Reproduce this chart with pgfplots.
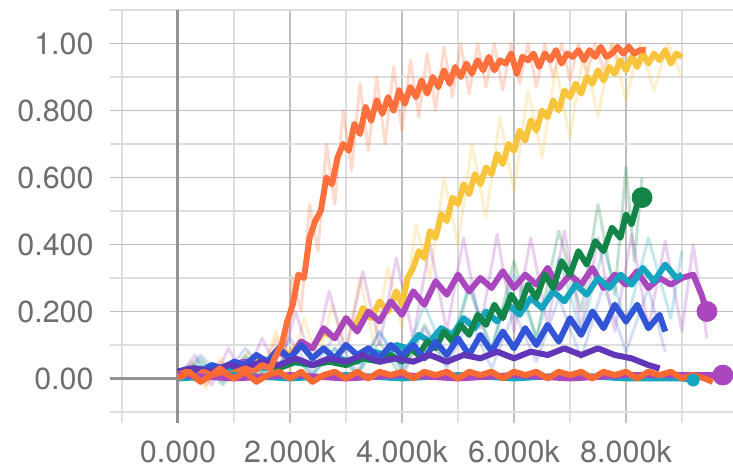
\documentclass[border=0pt]{standalone}
\usepackage{pgfplots}
\pgfplotsset{compat=1.18}
\usepackage{fontspec}
\setmainfont{TeX Gyre Heros}
\definecolor{cOr}{RGB}{255,112,60}
\definecolor{cYe}{RGB}{248,196,60}
\definecolor{cGr}{RGB}{20,133,72}
\definecolor{cCy}{RGB}{22,165,192}
\definecolor{cPu}{RGB}{170,70,190}
\definecolor{cBl}{RGB}{50,85,215}
\definecolor{cIn}{RGB}{98,54,184}
\definecolor{cOf}{RGB}{250,105,50}
\definecolor{txt}{RGB}{110,110,110}
\definecolor{gmaj}{RGB}{190,190,190}
\definecolor{gmin}{RGB}{222,222,222}
\begin{document}
\begin{tikzpicture}
\begin{axis}[
  scale only axis,
  width=311.5bp, height=206.5bp,
  xmin=-1214, xmax=9911, ymin=-0.133, ymax=1.1,
  axis line style={draw=none},
  tick style={draw=none},
  major tick length=0pt,
  xtick={0,2000,4000,6000,8000},
  xticklabels={0.000,2.000k,4.000k,6.000k,8.000k},
  minor xtick={-1000,1000,3000,5000,7000,9000},
  ytick={0,0.2,0.4,0.6,0.8,1.0},
  yticklabels={0.00,0.200,0.400,0.600,0.800,1.00},
  minor ytick={-0.1,0.1,0.3,0.5,0.7,0.9,1.1},
  grid=both,
  major grid style={draw=gmaj, line width=0.7bp},
  minor grid style={draw=gmin, line width=1bp},
  ticklabel style={font=\fontsize{15.3}{18}\selectfont, text=txt},
  yticklabel style={inner sep=0pt, anchor=east, xshift=-8bp},
  xticklabel style={inner sep=0pt, anchor=north, yshift=-8.5bp},
  every axis plot/.append style={line join=round},
]
\draw[draw=gray!85, line width=1.5bp] (axis cs:0,-0.133) -- (axis cs:0,1.1);
\draw[draw=gray!85, line width=1.2bp] (axis cs:-1214,0) -- (axis cs:0,0);

% faint raw series
\addplot[cOr, opacity=0.25, line width=1.5bp] coordinates {
(0,0.0)(250,0.04)(500,-0.02)(750,0.05)(1000,0.0)(1250,0.06)(1500,0.01)(1750,0.12)(1900,0.05)(2050,0.30)(2200,0.20)(2350,0.52)(2500,0.38)(2650,0.70)(2800,0.52)(2950,0.80)(3100,0.62)(3250,0.88)(3400,0.68)(3550,0.90)(3700,0.70)(3850,0.93)(4000,0.74)(4150,0.95)(4300,0.78)(4450,0.97)(4600,0.80)(4750,0.99)(4900,0.84)(5050,1.0)(5200,0.85)(5350,1.0)(5500,0.87)(5650,1.0)(5800,0.86)(5950,1.0)(6100,0.88)(6250,1.0)(6400,0.87)(6550,1.0)(6700,0.9)(6850,1.0)(7000,0.89)(7150,1.0)(7300,0.91)(7450,1.0)(7600,0.92)(7750,1.0)(7900,0.93)(8050,1.0)(8200,0.94)(8350,0.99)};
\addplot[cYe, opacity=0.25, line width=1.5bp] coordinates {
(0,0.0)(250,0.05)(500,-0.03)(750,0.06)(1000,0.0)(1250,0.08)(1500,0.02)(1750,0.14)(2000,0.02)(2250,0.18)(2500,0.05)(2750,0.22)(3000,0.08)(3250,0.30)(3500,0.10)(3750,0.33)(4000,0.15)(4250,0.46)(4500,0.30)(4750,0.60)(5000,0.40)(5250,0.70)(5500,0.48)(5750,0.78)(6000,0.56)(6250,0.86)(6500,0.66)(6750,0.93)(7000,0.72)(7250,0.98)(7500,0.78)(7750,1.0)(8000,0.83)(8250,1.0)(8500,0.86)(8750,1.0)(9000,0.9)};
\addplot[cGr, opacity=0.25, line width=1.5bp] coordinates {
(0,0.0)(400,0.06)(800,-0.02)(1200,0.07)(1600,0.0)(2000,0.08)(2400,0.01)(2800,0.09)(3200,0.01)(3600,0.11)(4000,0.0)(4400,0.16)(4800,0.04)(5200,0.27)(5600,0.08)(6000,0.35)(6400,0.12)(6800,0.44)(7200,0.20)(7500,0.52)(7800,0.25)(8000,0.63)(8150,0.35)(8286,0.60)};
\addplot[cPu, opacity=0.25, line width=1.5bp] coordinates {
(0,0.0)(300,0.07)(600,-0.02)(900,0.09)(1200,0.0)(1500,0.12)(1800,0.02)(2100,0.20)(2400,0.04)(2700,0.26)(3000,0.08)(3300,0.32)(3600,0.10)(3900,0.36)(4200,0.12)(4500,0.40)(4800,0.14)(5100,0.42)(5400,0.15)(5700,0.43)(6000,0.14)(6300,0.42)(6600,0.16)(6900,0.44)(7200,0.15)(7500,0.42)(7800,0.14)(8100,0.43)(8400,0.15)(8700,0.41)(9000,0.14)(9200,0.40)(9446,0.12)};
\addplot[cCy, opacity=0.25, line width=1.5bp] coordinates {
(0,0.0)(400,0.05)(800,-0.01)(1200,0.06)(1600,0.0)(2000,0.08)(2400,0.01)(2800,0.09)(3200,0.01)(3600,0.14)(4000,0.03)(4400,0.22)(4800,0.06)(5200,0.28)(5600,0.09)(6000,0.31)(6400,0.12)(6800,0.36)(7200,0.14)(7600,0.39)(8000,0.16)(8400,0.42)(8800,0.18)(9000,0.38)};
\addplot[cBl, opacity=0.2, line width=1.5bp] coordinates {
(0,0.0)(400,0.07)(800,0.0)(1200,0.09)(1600,0.01)(2000,0.12)(2400,0.02)(2800,0.13)(3200,0.02)(3600,0.14)(4000,0.02)(4400,0.15)(4800,0.03)(5200,0.18)(5600,0.03)(6000,0.20)(6400,0.05)(6800,0.24)(7200,0.06)(7600,0.28)(8000,0.08)(8400,0.27)(8700,0.08)};

% smoothed series
\addplot[cYe, line width=3bp] coordinates {
(0,0.01)(200,0.02)(400,0.01)(600,0.03)(800,0.02)(1000,0.04)(1200,0.03)(1400,0.06)(1600,0.05)(1800,0.09)(2000,0.07)(2200,0.11)(2400,0.09)(2600,0.14)(2800,0.12)(3000,0.18)(3150,0.15)(3300,0.21)(3450,0.18)(3600,0.23)(3750,0.20)(3900,0.26)(4000,0.22)(4100,0.30)(4200,0.33)(4300,0.38)(4400,0.36)(4500,0.44)(4600,0.42)(4700,0.49)(4800,0.47)(4900,0.54)(5000,0.52)(5100,0.58)(5200,0.55)(5300,0.61)(5400,0.58)(5500,0.63)(5600,0.61)(5700,0.67)(5800,0.64)(5900,0.70)(6000,0.68)(6100,0.74)(6200,0.71)(6300,0.77)(6400,0.74)(6500,0.80)(6600,0.78)(6700,0.83)(6800,0.80)(6900,0.86)(7000,0.84)(7100,0.88)(7200,0.85)(7300,0.90)(7400,0.88)(7500,0.92)(7600,0.89)(7700,0.93)(7800,0.91)(7900,0.95)(8000,0.92)(8100,0.96)(8200,0.93)(8300,0.97)(8400,0.94)(8500,0.97)(8600,0.95)(8700,0.98)(8800,0.94)(8900,0.97)(9000,0.96)};
\addplot[cPu, line width=3bp] coordinates {
(0,0.02)(300,0.03)(600,0.02)(900,0.04)(1200,0.05)(1500,0.04)(1800,0.08)(2000,0.06)(2200,0.11)(2400,0.09)(2600,0.15)(2800,0.12)(3000,0.18)(3200,0.14)(3400,0.20)(3600,0.17)(3800,0.23)(4000,0.19)(4200,0.26)(4400,0.22)(4600,0.29)(4800,0.25)(5000,0.31)(5200,0.26)(5400,0.30)(5600,0.27)(5800,0.32)(6000,0.27)(6200,0.31)(6400,0.28)(6600,0.33)(6800,0.27)(7000,0.31)(7200,0.28)(7400,0.33)(7600,0.27)(7800,0.31)(8000,0.28)(8200,0.32)(8400,0.27)(8600,0.30)(8800,0.28)(9000,0.30)(9200,0.31)(9350,0.25)(9446,0.20)};
\addplot[cCy, line width=3bp] coordinates {
(0,0.02)(400,0.03)(800,0.02)(1200,0.04)(1600,0.03)(2000,0.05)(2400,0.04)(2800,0.06)(3200,0.05)(3500,0.08)(3700,0.07)(3900,0.10)(4100,0.09)(4300,0.13)(4500,0.11)(4700,0.15)(4900,0.13)(5100,0.18)(5300,0.15)(5500,0.20)(5700,0.17)(5900,0.22)(6100,0.19)(6300,0.24)(6500,0.21)(6700,0.26)(6900,0.23)(7100,0.28)(7300,0.25)(7500,0.30)(7700,0.27)(7900,0.31)(8100,0.28)(8300,0.33)(8500,0.29)(8700,0.34)(8900,0.30)(9000,0.31)};
\addplot[cGr, line width=3bp] coordinates {
(0,0.02)(300,0.03)(600,0.02)(900,0.04)(1200,0.03)(1500,0.04)(1800,0.03)(2100,0.05)(2400,0.04)(2700,0.05)(3000,0.04)(3300,0.06)(3600,0.05)(3800,0.07)(4000,0.05)(4150,0.09)(4300,0.07)(4450,0.11)(4600,0.09)(4750,0.14)(4900,0.11)(5050,0.16)(5200,0.13)(5350,0.19)(5500,0.16)(5650,0.22)(5800,0.18)(5950,0.25)(6100,0.21)(6250,0.28)(6400,0.24)(6550,0.31)(6700,0.27)(6850,0.35)(7000,0.31)(7150,0.38)(7300,0.34)(7450,0.41)(7600,0.38)(7750,0.45)(7900,0.42)(8000,0.49)(8100,0.46)(8200,0.52)(8286,0.54)};
\addplot[cBl, line width=3bp] coordinates {
(0,0.02)(200,0.03)(400,0.02)(600,0.04)(800,0.03)(1000,0.05)(1200,0.04)(1400,0.07)(1600,0.05)(1800,0.09)(2000,0.06)(2200,0.10)(2400,0.06)(2600,0.09)(2800,0.06)(3000,0.10)(3200,0.07)(3400,0.09)(3600,0.06)(3800,0.10)(4000,0.07)(4200,0.10)(4400,0.06)(4600,0.11)(4800,0.07)(5000,0.12)(5200,0.07)(5400,0.13)(5600,0.08)(5800,0.14)(6000,0.09)(6200,0.15)(6400,0.10)(6600,0.16)(6800,0.11)(7000,0.18)(7200,0.13)(7400,0.20)(7600,0.15)(7800,0.22)(8000,0.17)(8200,0.22)(8400,0.15)(8600,0.19)(8700,0.14)};
\addplot[cIn, line width=3bp] coordinates {
(0,0.02)(300,0.03)(600,0.02)(900,0.04)(1200,0.03)(1500,0.05)(1800,0.04)(2100,0.06)(2400,0.04)(2700,0.06)(3000,0.05)(3300,0.07)(3600,0.05)(3900,0.06)(4200,0.05)(4500,0.07)(4800,0.05)(5100,0.07)(5400,0.06)(5700,0.08)(6000,0.06)(6300,0.08)(6600,0.07)(6900,0.09)(7200,0.07)(7500,0.09)(7800,0.07)(8100,0.06)(8400,0.04)(8600,0.03)};
\addplot[cOr, line width=3bp] coordinates {
(0,0.01)(150,0.02)(300,0.00)(450,0.02)(600,0.01)(750,0.03)(900,0.01)(1050,0.02)(1200,0.03)(1350,0.02)(1500,0.04)(1650,0.03)(1750,0.07)(1850,0.10)(1950,0.17)(2050,0.22)(2150,0.31)(2250,0.30)(2350,0.42)(2450,0.47)(2550,0.50)(2650,0.60)(2750,0.58)(2850,0.66)(2950,0.70)(3050,0.68)(3150,0.76)(3250,0.73)(3350,0.81)(3450,0.77)(3550,0.83)(3650,0.79)(3750,0.84)(3850,0.80)(3950,0.86)(4050,0.82)(4150,0.87)(4250,0.84)(4350,0.89)(4450,0.85)(4550,0.90)(4650,0.87)(4750,0.92)(4850,0.88)(4950,0.93)(5050,0.90)(5150,0.94)(5250,0.91)(5350,0.95)(5450,0.92)(5550,0.96)(5650,0.92)(5750,0.95)(5850,0.94)(5950,0.97)(6050,0.91)(6150,0.96)(6250,0.95)(6350,0.97)(6450,0.93)(6550,0.97)(6650,0.95)(6750,0.98)(6850,0.94)(6950,0.97)(7050,0.96)(7150,0.98)(7250,0.95)(7350,0.98)(7450,0.96)(7550,0.99)(7650,0.96)(7750,0.97)(7850,0.99)(7950,0.97)(8050,0.99)(8150,0.97)(8250,0.98)(8350,0.98)};
% near-zero series
\addplot[cCy, line width=3bp] coordinates {
(0,0.0)(1000,0.01)(2000,0.0)(3000,0.01)(4000,0.0)(5000,0.01)(6000,0.0)(7000,0.01)(8000,0.0)(9000,0.0)(9200,-0.005)};
\addplot[cPu, line width=3bp] coordinates {
(0,0.01)(1000,0.0)(2000,0.01)(3000,0.0)(4000,0.01)(5000,0.0)(6000,0.01)(7000,0.0)(8000,0.01)(9000,0.01)(9730,0.01)};
\addplot[cOf, line width=3bp] coordinates {
(0,0.00)(200,0.02)(400,-0.01)(600,0.01)(800,0.02)(1000,0.00)(1200,0.02)(1400,-0.01)(1600,0.01)(1800,0.02)(2000,0.00)(2200,0.02)(2400,-0.01)(2600,0.01)(2800,0.02)(3000,0.00)(3200,0.02)(3400,0.00)(3600,0.02)(3800,0.01)(4000,0.02)(4200,0.00)(4400,0.02)(4600,0.01)(4800,0.02)(5000,0.00)(5200,0.02)(5400,0.01)(5600,0.02)(5800,0.00)(6000,0.02)(6200,0.01)(6400,0.02)(6600,0.00)(6800,0.02)(7000,0.01)(7200,0.02)(7400,0.00)(7600,0.02)(7800,0.01)(8000,0.02)(8200,0.00)(8400,0.02)(8600,0.01)(8800,0.02)(9000,0.00)(9200,0.01)(9400,0.00)(9550,-0.01)};
% end markers
\addplot[only marks, mark=*, mark size=5bp, color=cGr] coordinates {(8286,0.54)};
\addplot[only marks, mark=*, mark size=5bp, color=cPu] coordinates {(9446,0.20)};
\addplot[only marks, mark=*, mark size=5bp, color=cPu] coordinates {(9730,0.01)};
\addplot[only marks, mark=*, mark size=3bp, color=cCy] coordinates {(9200,-0.005)};
\end{axis}
\pgfresetboundingbox
\path[use as bounding box] ([shift={(-55bp,-22bp)}]current axis.south west) rectangle ([shift={(0bp,5bp)}]current axis.north east);
\end{tikzpicture}
\end{document}
